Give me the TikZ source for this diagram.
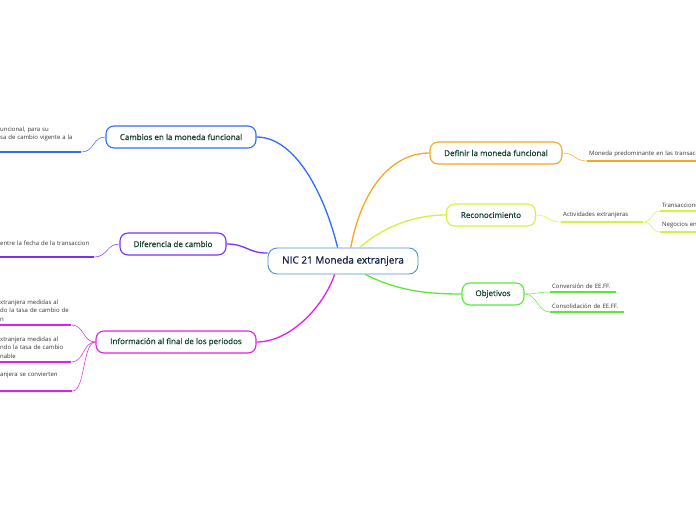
\documentclass[tikz,border=0pt]{standalone}
\usepackage{fontspec}
\setmainfont{Open Sans}
\newfontfamily\topicfont[FakeBold=0.6]{Open Sans}
\usepackage{xcolor}
\definecolor{colRoot}{HTML}{4A90D9}
\definecolor{colRootText}{HTML}{0E1F4D}
\definecolor{colTopicText}{HTML}{123F34}
\definecolor{colLeafText}{HTML}{333333}
\definecolor{colBlue}{HTML}{2F6BFF}
\definecolor{colPurple}{HTML}{7B2FF7}
\definecolor{colMagenta}{HTML}{E21FE5}
\definecolor{colOrange}{HTML}{F5A623}
\definecolor{colLime}{HTML}{D6F23C}
\definecolor{colGreen}{HTML}{5BE83A}
\usetikzlibrary{calc}
\tikzset{
	rootbox/.style={draw=colRoot, fill=white, rounded corners=9pt, minimum height=26pt, minimum width=150pt, font=\topicfont\fontsize{10}{12}\selectfont, text=colRootText, line width=0.9pt},
	topicbox/.style={draw=#1, fill=white, rounded corners=8pt, minimum height=22pt, font=\topicfont\fontsize{8}{10}\selectfont, text=colTopicText, line width=1.1pt},
	leaftext/.style={font=\fontsize{6}{8.5}\selectfont, text=colLeafText, inner xsep=2pt, inner ysep=3.5pt, align=left, anchor=south west},
	branchline/.style={draw=#1, line width=1.3pt},
	twigline/.style={draw=#1, line width=0.5pt},
	leafline/.style={draw=#1, line width=2.2pt},
}

\begin{document}
\begin{tikzpicture}[x=1pt, y=-1pt]
	\useasboundingbox (0,0) rectangle (696,520);
	\clip (0,0) rectangle (696,520);

	% Root
	\node[rootbox] (root) at (343,261) {NIC 21 Moneda extranjera};

	% Left topics
	\node[topicbox=colBlue, minimum width=150pt] (cambios) at (181,137) {Cambios en la moneda funcional};
	\node[topicbox=colPurple, minimum width=106pt] (difer) at (173,244) {Diferencia de cambio};
	\node[topicbox=colMagenta, minimum width=160pt] (info) at (176,342) {Información al final de los periodos};

	% Right topics
	\node[topicbox=colOrange, minimum width=132pt] (definir) at (496,153) {Definir la moneda funcional};
	\node[topicbox=colLime, minimum width=89pt] (recon) at (491,215) {Reconocimiento};
	\node[topicbox=colGreen, minimum width=62pt] (objet) at (493,294) {Objetivos};

	% Root -> topics
	\draw[branchline=colBlue] (root.112) .. controls +(-12,-50) and +(40,0) .. (cambios.east);
	\draw[branchline=colPurple] (root.174) .. controls +(-20,0) and +(20,0) .. (difer.east);
	\draw[branchline=colMagenta] (root.238) .. controls +(-10,30) and +(35,0) .. (info.east);
	\draw[branchline=colOrange] (root.60) .. controls +(10,-55) and +(-40,0) .. (definir.west);
	\draw[branchline=colLime] (root.39) .. controls +(25,-22) and +(-30,0) .. (recon.west);
	\draw[branchline=colGreen] (root.329) .. controls +(30,15) and +(-40,0) .. (objet.west);

	% Leaves: cambios
	\node[leaftext, text width=79pt, inner ysep=10.5pt] (cam1) at (-2,152) {uncional, para su\\sa de cambio vigente a la};
	\draw[leafline=colBlue] (cam1.south west) -- (cam1.south east);
	\draw[twigline=colBlue] (cambios.west) .. controls +(-13,0) and +(13,0) .. (cam1.south east);

	% Leaves: diferencia
	\node[leaftext, text width=92pt, inner ysep=11.5pt] (dif1) at (-2,257) {entre la fecha de la transaccion};
	\draw[leafline=colPurple] (dif1.south west) -- (dif1.south east);
	\draw[twigline=colPurple] (difer.west) .. controls +(-13,0) and +(13,0) .. (dif1.south east);

	% Leaves: informacion
	\node[leaftext, text width=69pt] (inf1) at (-2,325) {xtranjera medidas al\\do la tasa de cambio de\\n};
	\node[leaftext, text width=69pt] (inf2) at (-2,362) {xtranjera medidas al\\ndo la tasa de cambio\\nable};
	\node[leaftext, text width=70pt, inner ysep=12.5pt] (inf3) at (-2,391) {anjera se convierten};
	\foreach \lf in {inf1, inf2, inf3} {
		\draw[leafline=colMagenta] (\lf.south west) -- (\lf.south east);
		\draw[twigline=colMagenta] (info.west) .. controls +(-13,0) and +(13,0) .. (\lf.south east);
	}

	% Leaves: definir
	\node[leaftext, text width=130pt] (def1) at (587,161) {Moneda predominante en las transacciones};
	\draw[leafline=colOrange] (def1.south west) -- (def1.south east);
	\draw[twigline=colOrange] (definir.east) .. controls +(13,0) and +(-13,0) .. (def1.south west);

	% Leaves: reconocimiento
	\node[leaftext, text width=78pt] (rec1) at (561,222) {Actividades extranjeras};
	\node[leaftext, text width=120pt] (rec2) at (660,211) {Transacciones};
	\node[leaftext, text width=120pt] (rec3) at (660,232) {Negocios en el extranjero};
	\draw[twigline=colLime] (recon.east) .. controls +(13,0) and +(-13,0) .. (rec1.south west);
	\foreach \lf in {rec1, rec2, rec3}
		\draw[leafline=colLime] (\lf.south west) -- (\lf.south east);
	\foreach \lf in {rec2, rec3}
		\draw[twigline=colLime] (rec1.south east) .. controls +(9,0) and +(-9,0) .. (\lf.south west);

	% Leaves: objetivos
	\node[leaftext, text width=62pt] (obj1) at (550,292) {Conversión de EE.FF.};
	\node[leaftext, text width=70pt] (obj2) at (550,312) {Consolidación de EE.FF.};
	\foreach \lf in {obj1, obj2} {
		\draw[leafline=colGreen] (\lf.south west) -- (\lf.south east);
		\draw[twigline=colGreen] (objet.east) .. controls +(13,0) and +(-13,0) .. (\lf.south west);
	}
\end{tikzpicture}
\end{document}
